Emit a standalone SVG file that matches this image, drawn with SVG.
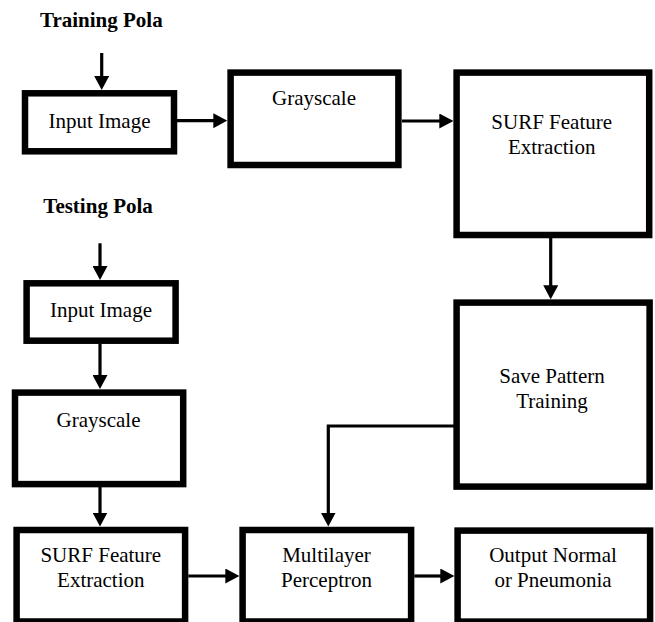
<svg xmlns="http://www.w3.org/2000/svg" width="655" height="622" viewBox="0 0 655 622">
<style>
.box{fill:#fff;stroke:#000;stroke-width:6.5}
.t{font-family:'Liberation Serif',Tinos,'Times New Roman','DejaVu Serif',serif;font-size:21px;fill:#000;text-anchor:middle}
.h{font-family:'Liberation Serif',Tinos,'Times New Roman','DejaVu Serif',serif;font-size:21px;font-weight:bold;fill:#000}
.c{fill:none;stroke:#000;stroke-width:3.2}
</style>
<defs>
<marker id="ah" markerUnits="userSpaceOnUse" markerWidth="14" markerHeight="15" refX="4" refY="7.5" orient="auto">
<path d="M0,0 L14,7.5 L0,15 Z" fill="#000"/>
</marker>
</defs>
<rect width="655" height="622" fill="#fff"/>
<text class="h" x="40" y="26.7">Training Pola</text>
<text class="h" x="43.3" y="213.3">Testing Pola</text>

<g id="connectors">
<line class="c" x1="101.7" y1="53" x2="101.7" y2="80" marker-end="url(#ah)"/>
<line class="c" x1="177" y1="120.7" x2="217.3" y2="120.7" marker-end="url(#ah)"/>
<line class="c" x1="402" y1="121" x2="443.3" y2="121" marker-end="url(#ah)"/>
<line class="c" x1="550.7" y1="238" x2="550.7" y2="289.3" marker-end="url(#ah)"/>
<line class="c" x1="100" y1="243.3" x2="100" y2="270" marker-end="url(#ah)"/>
<line class="c" x1="100" y1="344" x2="100" y2="379" marker-end="url(#ah)"/>
<line class="c" x1="100" y1="487" x2="100" y2="516.5" marker-end="url(#ah)"/>
<polyline class="c" points="454,426 328.3,426 328.3,516.5" marker-end="url(#ah)"/>
<line class="c" x1="188.3" y1="576" x2="229.3" y2="576" marker-end="url(#ah)"/>
<line class="c" x1="414.3" y1="576" x2="444.3" y2="576" marker-end="url(#ah)"/>
</g>

<g id="train-input"><rect class="box" x="25" y="93.3" width="149" height="58"/><text class="t" x="99.5" y="127.7">Input Image</text></g>
<g id="train-grayscale"><rect class="box" x="230.6" y="72.6" width="167.8" height="92.4"/><text class="t" x="314" y="105">Grayscale</text></g>
<g id="train-surf"><rect class="box" x="456.6" y="72.6" width="192.6" height="162.4"/><text class="t" x="551.7" y="129.3">SURF Feature</text><text class="t" x="551.7" y="154.3">Extraction</text></g>
<g id="save-pattern"><rect class="box" x="456.6" y="302.6" width="193" height="184"/><text class="t" x="552" y="383.3">Save Pattern</text><text class="t" x="552" y="408.3">Training</text></g>
<g id="test-input"><rect class="box" x="26.6" y="283.3" width="149" height="57.4"/><text class="t" x="101" y="317.3">Input Image</text></g>
<g id="test-grayscale"><rect class="box" x="15" y="392.6" width="168.2" height="91.5"/><text class="t" x="98.5" y="426.7">Grayscale</text></g>
<g id="test-surf"><rect class="box" x="16.6" y="530" width="168.5" height="91.5"/><text class="t" x="100.8" y="561.7">SURF Feature</text><text class="t" x="100.8" y="586.7">Extraction</text></g>
<g id="mlp"><rect class="box" x="242.6" y="530" width="168.5" height="91.5"/><text class="t" x="326.5" y="561.7">Multilayer</text><text class="t" x="326.5" y="586.7">Perceptron</text></g>
<g id="output"><rect class="box" x="457.6" y="530.6" width="192.5" height="91"/><text class="t" x="553" y="561.7">Output Normal</text><text class="t" x="553" y="586.7">or Pneumonia</text></g>
</svg>
